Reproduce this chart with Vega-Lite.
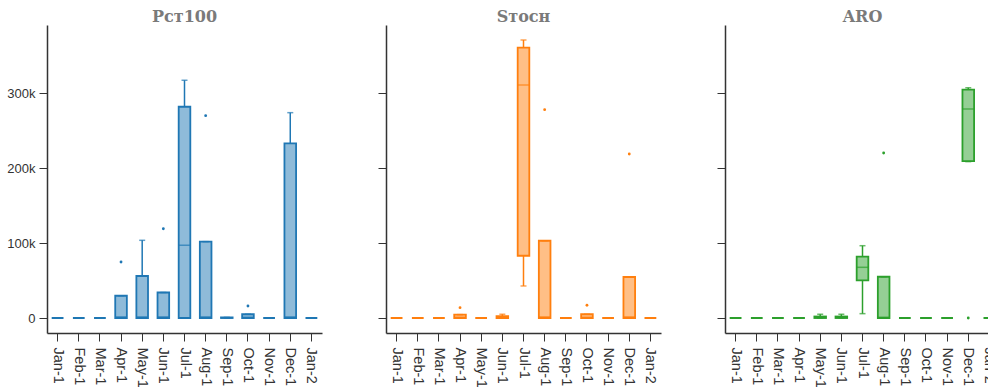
{
  "$schema": "https://vega.github.io/schema/vega-lite/v6.json",
  "padding": {"left": 6, "top": 9, "right": 0, "bottom": 0},
  "spacing": 55,
  "datasets": {
    "boxes": [
      {"method": "Pct100", "month": "Jan-1", "lower": 0, "q1": 0, "median": 0, "q3": 0, "upper": 0},
      {"method": "Pct100", "month": "Feb-1", "lower": 0, "q1": 0, "median": 0, "q3": 0, "upper": 0},
      {"method": "Pct100", "month": "Mar-1", "lower": 0, "q1": 0, "median": 0, "q3": 0, "upper": 0},
      {"method": "Pct100", "month": "Apr-1", "lower": 0, "q1": 0, "median": 1500, "q3": 29700, "upper": 29700},
      {"method": "Pct100", "month": "May-1", "lower": 0, "q1": 0, "median": 1500, "q3": 56000, "upper": 103600},
      {"method": "Pct100", "month": "Jun-1", "lower": 0, "q1": 0, "median": 1500, "q3": 34000, "upper": 34000},
      {"method": "Pct100", "month": "Jul-1", "lower": 0, "q1": 0, "median": 97000, "q3": 281700, "upper": 317000},
      {"method": "Pct100", "month": "Aug-1", "lower": 0, "q1": 0, "median": 1500, "q3": 101800, "upper": 101800},
      {"method": "Pct100", "month": "Sep-1", "lower": 0, "q1": 0, "median": 0, "q3": 800, "upper": 800},
      {"method": "Pct100", "month": "Oct-1", "lower": 0, "q1": 0, "median": 1000, "q3": 5000, "upper": 5000},
      {"method": "Pct100", "month": "Nov-1", "lower": 0, "q1": 0, "median": 0, "q3": 0, "upper": 0},
      {"method": "Pct100", "month": "Dec-1", "lower": 0, "q1": 0, "median": 1500, "q3": 232900, "upper": 273800},
      {"method": "Pct100", "month": "Jan-2", "lower": 0, "q1": 0, "median": 0, "q3": 0, "upper": 0},
      {"method": "Stoch", "month": "Jan-1", "lower": 0, "q1": 0, "median": 0, "q3": 0, "upper": 0},
      {"method": "Stoch", "month": "Feb-1", "lower": 0, "q1": 0, "median": 0, "q3": 0, "upper": 0},
      {"method": "Stoch", "month": "Mar-1", "lower": 0, "q1": 0, "median": 0, "q3": 0, "upper": 0},
      {"method": "Stoch", "month": "Apr-1", "lower": 0, "q1": 0, "median": 1000, "q3": 4500, "upper": 4500},
      {"method": "Stoch", "month": "May-1", "lower": 0, "q1": 0, "median": 0, "q3": 0, "upper": 0},
      {"method": "Stoch", "month": "Jun-1", "lower": 0, "q1": 0, "median": 500, "q3": 2500, "upper": 5000},
      {"method": "Stoch", "month": "Jul-1", "lower": 42700, "q1": 83000, "median": 310700, "q3": 360400, "upper": 370700},
      {"method": "Stoch", "month": "Aug-1", "lower": 0, "q1": 0, "median": 1500, "q3": 103000, "upper": 103000},
      {"method": "Stoch", "month": "Sep-1", "lower": 0, "q1": 0, "median": 0, "q3": 0, "upper": 0},
      {"method": "Stoch", "month": "Oct-1", "lower": 0, "q1": 0, "median": 1000, "q3": 5000, "upper": 5000},
      {"method": "Stoch", "month": "Nov-1", "lower": 0, "q1": 0, "median": 0, "q3": 0, "upper": 0},
      {"method": "Stoch", "month": "Dec-1", "lower": 0, "q1": 0, "median": 1500, "q3": 54700, "upper": 54700},
      {"method": "Stoch", "month": "Jan-2", "lower": 0, "q1": 0, "median": 0, "q3": 0, "upper": 0},
      {"method": "ARO", "month": "Jan-1", "lower": 0, "q1": 0, "median": 0, "q3": 0, "upper": 0},
      {"method": "ARO", "month": "Feb-1", "lower": 0, "q1": 0, "median": 0, "q3": 0, "upper": 0},
      {"method": "ARO", "month": "Mar-1", "lower": 0, "q1": 0, "median": 0, "q3": 0, "upper": 0},
      {"method": "ARO", "month": "Apr-1", "lower": 0, "q1": 0, "median": 0, "q3": 0, "upper": 0},
      {"method": "ARO", "month": "May-1", "lower": 0, "q1": 0, "median": 500, "q3": 2000, "upper": 5000},
      {"method": "ARO", "month": "Jun-1", "lower": 0, "q1": 0, "median": 500, "q3": 2000, "upper": 5000},
      {"method": "ARO", "month": "Jul-1", "lower": 5800, "q1": 50200, "median": 67600, "q3": 81800, "upper": 96400},
      {"method": "ARO", "month": "Aug-1", "lower": 0, "q1": 0, "median": 1000, "q3": 55000, "upper": 55000},
      {"method": "ARO", "month": "Sep-1", "lower": 0, "q1": 0, "median": 0, "q3": 0, "upper": 0},
      {"method": "ARO", "month": "Oct-1", "lower": 0, "q1": 0, "median": 0, "q3": 0, "upper": 0},
      {"method": "ARO", "month": "Nov-1", "lower": 0, "q1": 0, "median": 0, "q3": 0, "upper": 0},
      {"method": "ARO", "month": "Dec-1", "lower": 208500, "q1": 209300, "median": 278700, "q3": 304400, "upper": 307000},
      {"method": "ARO", "month": "Jan-2", "lower": 0, "q1": 0, "median": 0, "q3": 0, "upper": 0}
    ],
    "outliers": [
      {"method": "Pct100", "month": "Apr-1", "value": 74700},
      {"method": "Pct100", "month": "Jun-1", "value": 119000},
      {"method": "Pct100", "month": "Aug-1", "value": 269800},
      {"method": "Pct100", "month": "Oct-1", "value": 16000},
      {"method": "Stoch", "month": "Apr-1", "value": 13800},
      {"method": "Stoch", "month": "Aug-1", "value": 277800},
      {"method": "Stoch", "month": "Oct-1", "value": 17000},
      {"method": "Stoch", "month": "Dec-1", "value": 218700},
      {"method": "ARO", "month": "Aug-1", "value": 220000},
      {"method": "ARO", "month": "Dec-1", "value": 0}
    ]
  },
  "config": {
    "view": {"stroke": null},
    "axis": {
      "grid": false,
      "labelFont": "Liberation Sans",
      "labelFontSize": 13,
      "labelColor": "#333333",
      "domainColor": "#333333",
      "domainWidth": 1.5,
      "tickColor": "#333333",
      "tickSize": 8,
      "title": null
    },
    "title": {
      "font": "DejaVu Serif",
      "fontSize": 16,
      "fontWeight": "bold",
      "color": "#7a7a7a",
      "anchor": "middle"
    }
  },
  "hconcat": [
    {
      "width": 275,
      "height": 308,
      "title": {"text": "Pᴄᴛ100", "offset": 0},
      "layer": [
        {"data": {"name": "boxes"}, "transform": [{"filter": "datum.method === 'Pct100'"}], "mark": {"type": "rule", "strokeWidth": 1.5}, "encoding": {"x": {"field": "month", "type": "nominal", "scale": {"domain": ["Jan-1","Feb-1","Mar-1","Apr-1","May-1","Jun-1","Jul-1","Aug-1","Sep-1","Oct-1","Nov-1","Dec-1","Jan-2"], "paddingInner": 0, "paddingOuter": 0}, "axis": {"labelAngle": 90, "labelAlign": "left", "labelBaseline": "middle", "labelPadding": 6, "labelFontSize": 14.5}}, "y": {"field": "q3", "type": "quantitative", "scale": {"domain": [-20000, 390700], "nice": false, "zero": false}, "axis": {"values": [0, 100000, 200000, 300000], "labelExpr": "datum.value === 0 ? '0' : format(datum.value / 1000, 'd') + 'k'", "labelPadding": 4}}, "y2": {"field": "upper"}, "color": {"field": "method", "type": "nominal", "scale": {"domain": ["Pct100","Stoch","ARO"], "range": ["#1f77b4","#ff7f0e","#2ca02c"]}, "legend": null}}},
        {"data": {"name": "boxes"}, "transform": [{"filter": "datum.method === 'Pct100'"}], "mark": {"type": "rule", "strokeWidth": 1.5}, "encoding": {"x": {"field": "month", "type": "nominal"}, "y": {"field": "lower", "type": "quantitative"}, "y2": {"field": "q1"}, "color": {"field": "method", "type": "nominal"}}},
        {"data": {"name": "boxes"}, "transform": [{"filter": "datum.method === 'Pct100'"}], "mark": {"type": "bar", "width": {"band": 0.55}, "fillOpacity": 0.5, "strokeWidth": 1.8}, "encoding": {"x": {"field": "month", "type": "nominal"}, "y": {"field": "q1", "type": "quantitative"}, "y2": {"field": "q3"}, "color": {"field": "method", "type": "nominal"}, "stroke": {"field": "method", "type": "nominal", "scale": {"domain": ["Pct100","Stoch","ARO"], "range": ["#1f77b4","#ff7f0e","#2ca02c"]}, "legend": null}}},
        {"data": {"name": "boxes"}, "transform": [{"filter": "datum.method === 'Pct100'"}], "mark": {"type": "tick", "size": 11.5, "thickness": 1.5}, "encoding": {"x": {"field": "month", "type": "nominal"}, "y": {"field": "median", "type": "quantitative"}, "color": {"field": "method", "type": "nominal"}}},
        {"data": {"name": "boxes"}, "transform": [{"filter": "datum.method === 'Pct100'"}], "mark": {"type": "tick", "size": 6, "thickness": 1.5}, "encoding": {"x": {"field": "month", "type": "nominal"}, "y": {"field": "upper", "type": "quantitative"}, "color": {"field": "method", "type": "nominal"}}},
        {"data": {"name": "boxes"}, "transform": [{"filter": "datum.method === 'Pct100'"}], "mark": {"type": "tick", "size": 6, "thickness": 1.5}, "encoding": {"x": {"field": "month", "type": "nominal"}, "y": {"field": "lower", "type": "quantitative"}, "color": {"field": "method", "type": "nominal"}}},
        {"data": {"name": "outliers"}, "transform": [{"filter": "datum.method === 'Pct100'"}], "mark": {"type": "circle", "size": 8, "opacity": 1}, "encoding": {"x": {"field": "month", "type": "nominal"}, "y": {"field": "value", "type": "quantitative"}, "color": {"field": "method", "type": "nominal"}}}
      ]
    },
    {
      "width": 275,
      "height": 308,
      "title": {"text": "Sᴛᴏᴄʜ", "offset": 0},
      "layer": [
        {"data": {"name": "boxes"}, "transform": [{"filter": "datum.method === 'Stoch'"}], "mark": {"type": "rule", "strokeWidth": 1.5}, "encoding": {"x": {"field": "month", "type": "nominal", "scale": {"domain": ["Jan-1","Feb-1","Mar-1","Apr-1","May-1","Jun-1","Jul-1","Aug-1","Sep-1","Oct-1","Nov-1","Dec-1","Jan-2"], "paddingInner": 0, "paddingOuter": 0}, "axis": {"labelAngle": 90, "labelAlign": "left", "labelBaseline": "middle", "labelPadding": 6, "labelFontSize": 14.5}}, "y": {"field": "q3", "type": "quantitative", "scale": {"domain": [-20000, 390700], "nice": false, "zero": false}, "axis": {"values": [0, 100000, 200000, 300000], "labels": false}}, "y2": {"field": "upper"}, "color": {"field": "method", "type": "nominal", "scale": {"domain": ["Pct100","Stoch","ARO"], "range": ["#1f77b4","#ff7f0e","#2ca02c"]}, "legend": null}}},
        {"data": {"name": "boxes"}, "transform": [{"filter": "datum.method === 'Stoch'"}], "mark": {"type": "rule", "strokeWidth": 1.5}, "encoding": {"x": {"field": "month", "type": "nominal"}, "y": {"field": "lower", "type": "quantitative"}, "y2": {"field": "q1"}, "color": {"field": "method", "type": "nominal"}}},
        {"data": {"name": "boxes"}, "transform": [{"filter": "datum.method === 'Stoch'"}], "mark": {"type": "bar", "width": {"band": 0.55}, "fillOpacity": 0.5, "strokeWidth": 1.8}, "encoding": {"x": {"field": "month", "type": "nominal"}, "y": {"field": "q1", "type": "quantitative"}, "y2": {"field": "q3"}, "color": {"field": "method", "type": "nominal"}, "stroke": {"field": "method", "type": "nominal", "scale": {"domain": ["Pct100","Stoch","ARO"], "range": ["#1f77b4","#ff7f0e","#2ca02c"]}, "legend": null}}},
        {"data": {"name": "boxes"}, "transform": [{"filter": "datum.method === 'Stoch'"}], "mark": {"type": "tick", "size": 11.5, "thickness": 1.5}, "encoding": {"x": {"field": "month", "type": "nominal"}, "y": {"field": "median", "type": "quantitative"}, "color": {"field": "method", "type": "nominal"}}},
        {"data": {"name": "boxes"}, "transform": [{"filter": "datum.method === 'Stoch'"}], "mark": {"type": "tick", "size": 6, "thickness": 1.5}, "encoding": {"x": {"field": "month", "type": "nominal"}, "y": {"field": "upper", "type": "quantitative"}, "color": {"field": "method", "type": "nominal"}}},
        {"data": {"name": "boxes"}, "transform": [{"filter": "datum.method === 'Stoch'"}], "mark": {"type": "tick", "size": 6, "thickness": 1.5}, "encoding": {"x": {"field": "month", "type": "nominal"}, "y": {"field": "lower", "type": "quantitative"}, "color": {"field": "method", "type": "nominal"}}},
        {"data": {"name": "outliers"}, "transform": [{"filter": "datum.method === 'Stoch'"}], "mark": {"type": "circle", "size": 8, "opacity": 1}, "encoding": {"x": {"field": "month", "type": "nominal"}, "y": {"field": "value", "type": "quantitative"}, "color": {"field": "method", "type": "nominal"}}}
      ]
    },
    {
      "width": 275,
      "height": 308,
      "title": {"text": "ARO", "offset": 0},
      "layer": [
        {"data": {"name": "boxes"}, "transform": [{"filter": "datum.method === 'ARO'"}], "mark": {"type": "rule", "strokeWidth": 1.5}, "encoding": {"x": {"field": "month", "type": "nominal", "scale": {"domain": ["Jan-1","Feb-1","Mar-1","Apr-1","May-1","Jun-1","Jul-1","Aug-1","Sep-1","Oct-1","Nov-1","Dec-1","Jan-2"], "paddingInner": 0, "paddingOuter": 0}, "axis": {"labelAngle": 90, "labelAlign": "left", "labelBaseline": "middle", "labelPadding": 6, "labelFontSize": 14.5}}, "y": {"field": "q3", "type": "quantitative", "scale": {"domain": [-20000, 390700], "nice": false, "zero": false}, "axis": {"values": [0, 100000, 200000, 300000], "labels": false}}, "y2": {"field": "upper"}, "color": {"field": "method", "type": "nominal", "scale": {"domain": ["Pct100","Stoch","ARO"], "range": ["#1f77b4","#ff7f0e","#2ca02c"]}, "legend": null}}},
        {"data": {"name": "boxes"}, "transform": [{"filter": "datum.method === 'ARO'"}], "mark": {"type": "rule", "strokeWidth": 1.5}, "encoding": {"x": {"field": "month", "type": "nominal"}, "y": {"field": "lower", "type": "quantitative"}, "y2": {"field": "q1"}, "color": {"field": "method", "type": "nominal"}}},
        {"data": {"name": "boxes"}, "transform": [{"filter": "datum.method === 'ARO'"}], "mark": {"type": "bar", "width": {"band": 0.55}, "fillOpacity": 0.5, "strokeWidth": 1.8}, "encoding": {"x": {"field": "month", "type": "nominal"}, "y": {"field": "q1", "type": "quantitative"}, "y2": {"field": "q3"}, "color": {"field": "method", "type": "nominal"}, "stroke": {"field": "method", "type": "nominal", "scale": {"domain": ["Pct100","Stoch","ARO"], "range": ["#1f77b4","#ff7f0e","#2ca02c"]}, "legend": null}}},
        {"data": {"name": "boxes"}, "transform": [{"filter": "datum.method === 'ARO'"}], "mark": {"type": "tick", "size": 11.5, "thickness": 1.5}, "encoding": {"x": {"field": "month", "type": "nominal"}, "y": {"field": "median", "type": "quantitative"}, "color": {"field": "method", "type": "nominal"}}},
        {"data": {"name": "boxes"}, "transform": [{"filter": "datum.method === 'ARO'"}], "mark": {"type": "tick", "size": 6, "thickness": 1.5}, "encoding": {"x": {"field": "month", "type": "nominal"}, "y": {"field": "upper", "type": "quantitative"}, "color": {"field": "method", "type": "nominal"}}},
        {"data": {"name": "boxes"}, "transform": [{"filter": "datum.method === 'ARO'"}], "mark": {"type": "tick", "size": 6, "thickness": 1.5}, "encoding": {"x": {"field": "month", "type": "nominal"}, "y": {"field": "lower", "type": "quantitative"}, "color": {"field": "method", "type": "nominal"}}},
        {"data": {"name": "outliers"}, "transform": [{"filter": "datum.method === 'ARO'"}], "mark": {"type": "circle", "size": 8, "opacity": 1}, "encoding": {"x": {"field": "month", "type": "nominal"}, "y": {"field": "value", "type": "quantitative"}, "color": {"field": "method", "type": "nominal"}}}
      ]
    }
  ]
}
